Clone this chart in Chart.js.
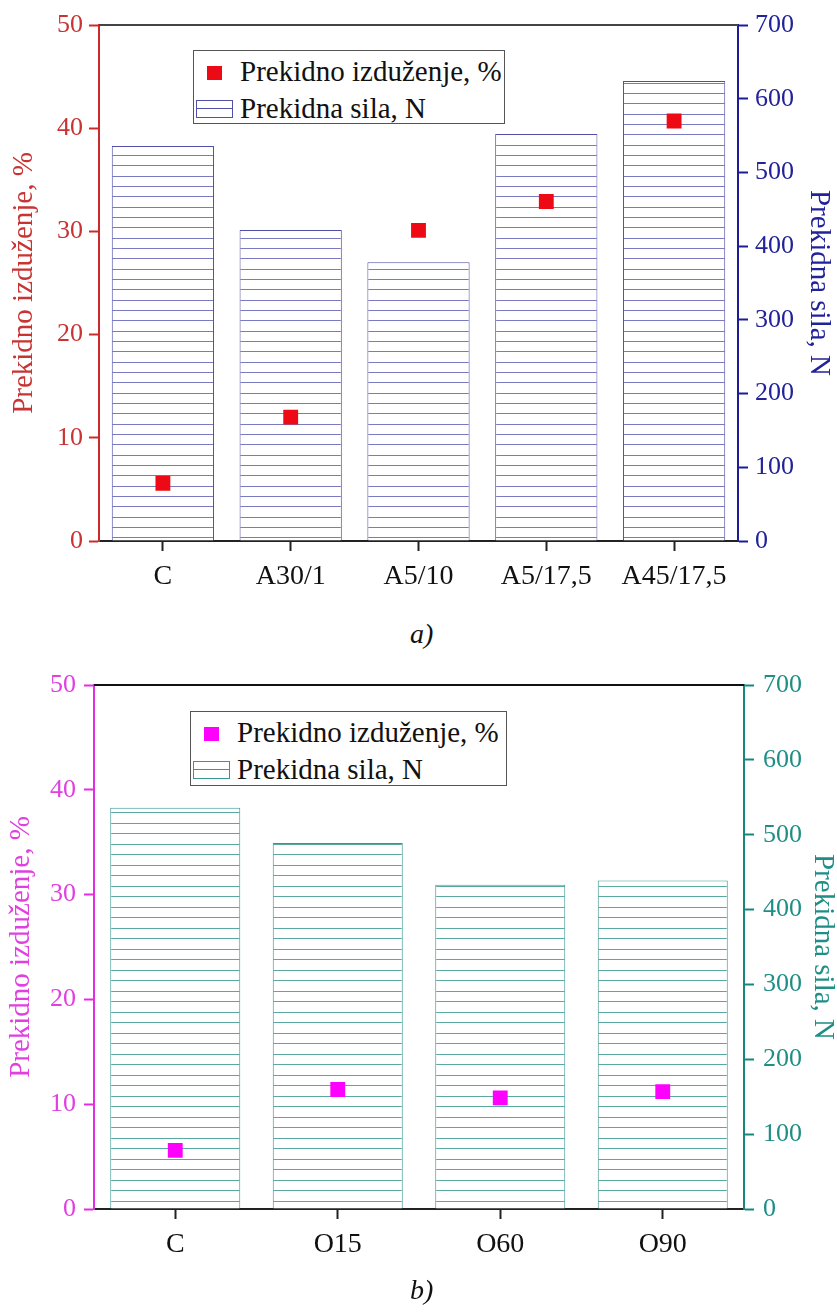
<!DOCTYPE html>
<html>
<head>
<meta charset="utf-8">
<script src="https://cdn.jsdelivr.net/npm/chart.js@4.4.1/dist/chart.umd.min.js"></script>
<style>
    body { margin: 0; background: #fff; width: 837px; height: 1312px; position: relative; overflow: hidden; font-family: 'Liberation Serif', 'Times New Roman', serif; }
    canvas { position: absolute; left: 0; display: block; }
    #chartA { top: 0; }
    #chartB { top: 655px; }
    .legend-box { position: absolute; box-sizing: border-box; border: 1px solid #555; background: #fff; }
    .legend-text { position: absolute; font-size: 29px; line-height: 29px; color: #111; white-space: nowrap; }
    .legend-mark { position: absolute; }
    .legend-hatch { position: absolute; box-sizing: border-box; border: 1px solid; }
    .caption { position: absolute; font-style: italic; font-size: 28px; line-height: 28px; color: #111; }
</style>
</head>
<body>
<canvas id="chartA" width="837" height="610"></canvas>
<canvas id="chartB" width="837" height="625"></canvas>
<div id="legendA"></div>
<div id="legendB"></div>
<div class="caption" style="left:410px; top:620px;">a)</div>
<div class="caption" style="left:410px; top:1276px;">b)</div>

<script>
// values
let categoriesA = ['C', 'A30/1', 'A5/10', 'A5/17,5', 'A45/17,5'];
let elongationA = [5.6, 12.0, 30.1, 32.9, 40.7];
let forceA = [536, 422, 378, 552, 624];

let categoriesB = ['C', 'O15', 'O60', 'O90'];
let elongationB = [5.6, 11.4, 10.6, 11.2];
let forceB = [536, 489, 433, 439];

let elongationTicks = [0, 10, 20, 30, 40, 50];
let forceTicks = [0, 100, 200, 300, 400, 500, 600, 700];

let elongationLabel = 'Prekidno izduženje, %';
let forceLabel = 'Prekidna sila, N';

const FONT = "'Liberation Serif', 'Times New Roman', serif";

function hatchPattern(color, tileHeight, rows) {
    const c = document.createElement('canvas');
    c.width = 8;
    c.height = tileHeight;
    const ctx = c.getContext('2d');
    ctx.fillStyle = '#fff';
    ctx.fillRect(0, 0, 8, tileHeight);
    ctx.fillStyle = color;
    rows.forEach(function (r) { ctx.fillRect(0, r, 8, 1); });
    return ctx.createPattern(c, 'repeat');
}

// line along the top of the plot frame
const topFrame = {
    id: 'topFrame',
    afterDraw(chart, args, opts) {
        const ctx = chart.ctx;
        const area = chart.chartArea;
        ctx.save();
        ctx.strokeStyle = opts.color;
        ctx.lineWidth = 2;
        ctx.beginPath();
        ctx.moveTo(area.left, area.top);
        ctx.lineTo(area.right, area.top);
        ctx.stroke();
        ctx.restore();
    }
};

function drawChart(id, c) {
    new Chart(document.getElementById(id), {
        type: 'bar',
        data: {
            labels: c.categories,
            datasets: [{
                type: 'line',
                label: elongationLabel,
                data: c.elongation,
                yAxisID: 'y',
                showLine: false,
                pointStyle: 'rect',
                pointRadius: 10.5,
                pointHoverRadius: 10.5,
                pointBackgroundColor: c.markerColor,
                pointBorderWidth: 0,
                order: 0
            }, {
                type: 'bar',
                label: forceLabel,
                data: c.force,
                yAxisID: 'y2',
                backgroundColor: hatchPattern(c.hatchColor, c.tile, c.rows),
                borderColor: c.barColor,
                borderWidth: 1,
                categoryPercentage: 0.8,
                barPercentage: 1,
                order: 1
            }]
        },
        options: {
            responsive: false,
            animation: false,
            layout: { padding: { top: c.padTop, left: 0, right: 0, bottom: 0 } },
            plugins: {
                legend: { display: false },
                tooltip: { enabled: false },
                topFrame: { color: c.frameColor }
            },
            scales: {
                x: {
                    grid: { drawOnChartArea: false, drawTicks: true, tickLength: 10, tickWidth: 2, tickColor: '#222', offset: false },
                    border: { color: '#222', width: 2 },
                    ticks: { color: '#111', font: { family: FONT, size: 28 }, padding: 9, maxRotation: 0, autoSkip: false },
                    afterFit: function (s) { s.height = c.xHeight; }
                },
                y: {
                    position: 'left',
                    min: 0,
                    max: 50,
                    afterBuildTicks: function (s) { s.ticks = elongationTicks.map(function (v) { return { value: v }; }); },
                    grid: { drawOnChartArea: false, tickLength: 10, tickWidth: 2, tickColor: c.leftColor },
                    border: { color: c.leftColor, width: 2 },
                    ticks: { color: c.leftText, font: { family: FONT, size: 26 }, padding: c.leftPad },
                    title: { display: true, text: elongationLabel, color: c.leftText, font: { family: FONT, size: 29, lineHeight: 1 }, padding: { top: c.leftTitlePad, bottom: 0 } },
                    afterFit: function (s) { s.width = c.leftWidth; }
                },
                y2: {
                    position: 'right',
                    min: 0,
                    max: 700,
                    afterBuildTicks: function (s) { s.ticks = forceTicks.map(function (v) { return { value: v }; }); },
                    grid: { drawOnChartArea: false, tickLength: 10, tickWidth: 2, tickColor: c.rightColor },
                    border: { color: c.rightColor, width: 2 },
                    ticks: { color: c.rightText, font: { family: FONT, size: 26 }, padding: c.rightPad },
                    title: { display: true, text: forceLabel, color: c.rightText, font: { family: FONT, size: 29, lineHeight: 1 }, padding: { top: c.rightTitlePad, bottom: 0 } },
                    afterFit: function (s) { s.width = c.rightWidth; }
                }
            }
        },
        plugins: [topFrame]
    });
}

function buildLegend(id, l) {
    const el = document.getElementById(id);
    el.innerHTML =
        '<div class="legend-box" style="left:' + l.left + 'px;top:' + l.top + 'px;width:' + l.width + 'px;height:' + l.height + 'px;"></div>' +
        '<div class="legend-mark" style="left:' + (l.left + 14) + 'px;top:' + (l.top + 16) + 'px;width:15px;height:14px;background:' + l.markerColor + ';"></div>' +
        '<div class="legend-text" style="left:' + (l.left + 47) + 'px;top:' + (l.top + 7) + 'px;"></div>' +
        '<div class="legend-hatch" style="left:' + (l.left + 3) + 'px;top:' + (l.top + 50) + 'px;width:37px;height:18px;border-color:' + l.barColor +
        ';background:linear-gradient(to bottom, transparent 0 7px, ' + l.barColor + ' 7px 8px, transparent 8px);"></div>' +
        '<div class="legend-text" style="left:' + (l.left + 47) + 'px;top:' + (l.top + 44) + 'px;"></div>';
    const texts = el.querySelectorAll('.legend-text');
    texts[0].textContent = elongationLabel;
    texts[1].textContent = forceLabel;
}

drawChart('chartA', {
    categories: categoriesA, elongation: elongationA, force: forceA,
    markerColor: '#ee0a14', hatchColor: '#7a7ac0', barColor: '#5050a8', tile: 31, rows: [0, 10, 21],
    frameColor: '#444', padTop: 25, xHeight: 69, leftWidth: 99, rightWidth: 99,
    leftColor: '#cc2a2a', leftText: '#c83434', leftPad: 6, leftTitlePad: 10,
    rightColor: '#1c1c96', rightText: '#22229a', rightPad: 7, rightTitlePad: 4
});

drawChart('chartB', {
    categories: categoriesB, elongation: elongationB, force: forceB,
    markerColor: '#ff00ff', hatchColor: '#5aa8a2', barColor: '#3a9690', tile: 21, rows: [0, 10],
    frameColor: '#111', padTop: 30, xHeight: 71, leftWidth: 94, rightWidth: 93,
    leftColor: '#e22ee2', leftText: '#e040e0', leftPad: 8, leftTitlePad: 7,
    rightColor: '#17877e', rightText: '#1f8f86', rightPad: 9, rightTitlePad: 0
});

buildLegend('legendA', { left: 193, top: 50, width: 312, height: 74, markerColor: '#ee0a14', barColor: '#5050a8' });
buildLegend('legendB', { left: 190, top: 711, width: 317, height: 75, markerColor: '#ff00ff', barColor: '#3a9690' });
</script>
</body>
</html>
